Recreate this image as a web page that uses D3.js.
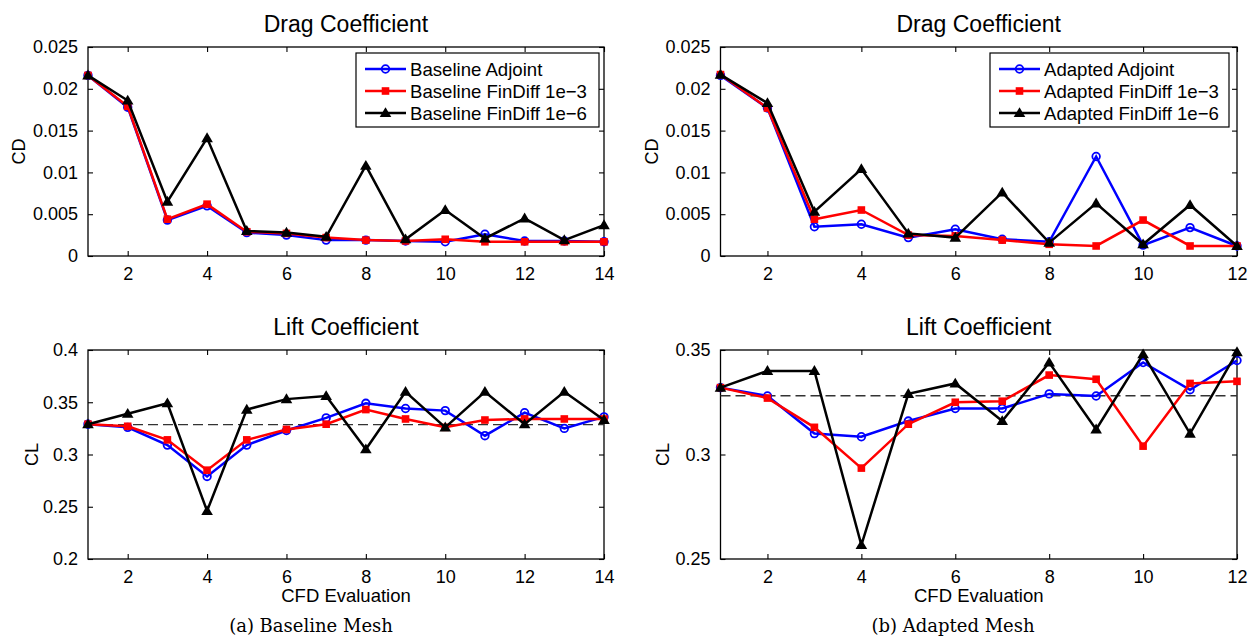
<!DOCTYPE html>
<html>
<head>
<meta charset="utf-8">
<script src="https://cdn.jsdelivr.net/npm/d3@7"></script>
<style>
  html, body { margin: 0; padding: 0; background: #fff; }
  svg { display: block; }
</style>
</head>
<body>
<div id="chart"></div>
<script>
// ── Data ────────────────────────────────────────────────────────────────────
const evalA = d3.range(1, 15);   // CFD evaluations, baseline mesh
const evalB = d3.range(1, 13);   // CFD evaluations, adapted mesh

const cdBaseAdjoint = [0.0216, 0.0178, 0.0043, 0.0060, 0.0028, 0.0025, 0.0019, 0.0019, 0.0018, 0.0017, 0.0026, 0.0018, 0.0018, 0.0017];
const cdBaseFd3     = [0.0216, 0.0179, 0.0044, 0.0062, 0.0029, 0.0027, 0.0022, 0.0019, 0.0018, 0.0020, 0.0017, 0.0017, 0.0017, 0.0017];
const cdBaseFd6     = [0.0216, 0.0186, 0.0065, 0.0141, 0.0030, 0.0028, 0.0023, 0.0108, 0.0020, 0.0055, 0.0021, 0.0045, 0.0019, 0.0037];

const clBaseAdjoint = [0.329, 0.326, 0.309, 0.279, 0.309, 0.323, 0.335, 0.349, 0.344, 0.342, 0.318, 0.340, 0.325, 0.336];
const clBaseFd3     = [0.329, 0.327, 0.314, 0.285, 0.314, 0.324, 0.329, 0.343, 0.334, 0.326, 0.333, 0.334, 0.334, 0.334];
const clBaseFd6     = [0.329, 0.339, 0.349, 0.246, 0.343, 0.353, 0.356, 0.305, 0.360, 0.326, 0.360, 0.329, 0.360, 0.333];

const cdAdaptAdjoint = [0.0216, 0.0177, 0.0035, 0.0038, 0.0022, 0.0032, 0.0020, 0.0017, 0.0119, 0.0013, 0.0034, 0.0012];
const cdAdaptFd3     = [0.0217, 0.0177, 0.0044, 0.0055, 0.0025, 0.0024, 0.0019, 0.0014, 0.0012, 0.0043, 0.0012, 0.0012];
const cdAdaptFd6     = [0.0217, 0.0183, 0.0053, 0.0104, 0.0027, 0.0022, 0.0076, 0.0016, 0.0063, 0.0014, 0.0061, 0.0012];

const clAdaptAdjoint = [0.332, 0.328, 0.310, 0.3085, 0.316, 0.322, 0.322, 0.329, 0.328, 0.344, 0.331, 0.345];
const clAdaptFd3     = [0.332, 0.327, 0.313, 0.2935, 0.3145, 0.325, 0.3255, 0.338, 0.336, 0.304, 0.334, 0.335];
const clAdaptFd6     = [0.332, 0.340, 0.340, 0.2567, 0.329, 0.334, 0.316, 0.344, 0.312, 0.348, 0.310, 0.349];

const clRefBase  = 0.3286;   // dashed reference line
const clRefAdapt = 0.3281;

const cdTicks   = [0, 0.005, 0.01, 0.015, 0.02, 0.025];
const clTicksA  = [0.2, 0.25, 0.3, 0.35, 0.4];
const clTicksB  = [0.25, 0.3, 0.35];
const xTicksA   = [2, 4, 6, 8, 10, 12, 14];
const xTicksB   = [2, 4, 6, 8, 10, 12];

const namesBase  = ['Baseline Adjoint', 'Baseline FinDiff 1e\u22123', 'Baseline FinDiff 1e\u22126'];
const namesAdapt = ['Adapted Adjoint', 'Adapted FinDiff 1e\u22123', 'Adapted FinDiff 1e\u22126'];

// ── Style ───────────────────────────────────────────────────────────────────
const W = 1252, H = 643;
const FONT  = 'Liberation Sans, Arial, Helvetica, sans-serif';
const SERIF = 'DejaVu Serif, Liberation Serif, serif';
const STYLES = [
  { color: '#0000ff', marker: 'circle'   },
  { color: '#ff0000', marker: 'square'   },
  { color: '#000000', marker: 'triangle' },
];

const svg = d3.select('#chart').append('svg')
  .attr('width', W).attr('height', H)
  .attr('viewBox', `0 0 ${W} ${H}`);
svg.append('rect').attr('width', W).attr('height', H).attr('fill', '#fff');

const fmt = v => v === 0 ? '0' : String(+v.toFixed(4));

function drawMarker(g, kind, color, x, y) {
  if (kind === 'circle') {
    g.append('circle').attr('cx', x).attr('cy', y).attr('r', 3.8)
      .attr('fill', 'none').attr('stroke', color).attr('stroke-width', 1.8);
  } else if (kind === 'square') {
    g.append('rect').attr('x', x - 3.8).attr('y', y - 3.8)
      .attr('width', 7.6).attr('height', 7.6).attr('fill', color);
  } else {
    const s = 5.8;
    g.append('path')
      .attr('d', `M${x},${y - s}L${x + s},${y + s * 0.7}L${x - s},${y + s * 0.7}Z`)
      .attr('fill', color);
  }
}

// ── One subplot ─────────────────────────────────────────────────────────────
function panel(opt) {
  const { box, xs, xDomain, xTicks, yDomain, yTicks, series, title, ylabel, ylabelX, refLine, xlabel, legend } = opt;
  const [x0, y0, x1, y1] = box;
  const x = d3.scaleLinear().domain(xDomain).range([x0, x1]);
  const y = d3.scaleLinear().domain(yDomain).range([y1, y0]);
  const g = svg.append('g');

  // axes: bottom/left with labels, top/right mirrored, ticks pointing inward
  const ax = [
    d3.axisBottom(x).tickValues(xTicks).tickFormat(d3.format('d')),
    d3.axisTop(x).tickValues(xTicks).tickFormat(''),
    d3.axisLeft(y).tickValues(yTicks).tickFormat(fmt),
    d3.axisRight(y).tickValues(yTicks).tickFormat(''),
  ];
  const pos = [`translate(0,${y1})`, `translate(0,${y0})`, `translate(${x0},0)`, `translate(${x1},0)`];
  ax.forEach((a, i) => {
    a.tickSizeInner(-5).tickSizeOuter(0).tickPadding(i === 0 ? 11 : 10);
    const sel = g.append('g').attr('transform', pos[i]).call(a);
    sel.select('.domain').remove();
    sel.selectAll('line').attr('stroke', '#000').attr('stroke-width', 1.1);
    sel.selectAll('text').attr('font-family', FONT).attr('font-size', 18).attr('fill', '#000');
  });
  g.append('rect').attr('x', x0).attr('y', y0).attr('width', x1 - x0).attr('height', y1 - y0)
    .attr('fill', 'none').attr('stroke', '#000').attr('stroke-width', 1.3);

  if (refLine != null) {
    g.append('line')
      .attr('x1', x0).attr('x2', x1).attr('y1', y(refLine)).attr('y2', y(refLine))
      .attr('stroke', '#333').attr('stroke-width', 1.3).attr('stroke-dasharray', '10,5');
  }

  const line = d3.line().x((d, i) => x(xs[i])).y(d => y(d));
  series.forEach((vals, k) => {
    const st = STYLES[k];
    g.append('path').datum(vals).attr('d', line)
      .attr('fill', 'none').attr('stroke', st.color).attr('stroke-width', 2.5)
      .attr('stroke-linejoin', 'miter');
    const mg = g.append('g');
    vals.forEach((v, i) => drawMarker(mg, st.marker, st.color, x(xs[i]), y(v)));
  });

  g.append('text').attr('x', (x0 + x1) / 2).attr('y', y0 - 15.5)
    .attr('text-anchor', 'middle').attr('font-family', FONT).attr('font-size', 23)
    .text(title);

  g.append('text')
    .attr('transform', `translate(${ylabelX},${(y0 + y1) / 2}) rotate(-90)`)
    .attr('text-anchor', 'middle').attr('font-family', FONT).attr('font-size', 18)
    .text(ylabel);

  if (xlabel) {
    g.append('text').attr('x', (x0 + x1) / 2).attr('y', y1 + 43)
      .attr('text-anchor', 'middle').attr('font-family', FONT).attr('font-size', 18.5)
      .text(xlabel);
  }

  if (legend) {
    const [lx0, ly0, lx1, ly1] = legend.box;
    const lg = g.append('g');
    lg.append('rect').attr('x', lx0).attr('y', ly0).attr('width', lx1 - lx0).attr('height', ly1 - ly0)
      .attr('fill', '#fff').attr('stroke', '#000').attr('stroke-width', 1.2);
    legend.names.forEach((name, k) => {
      const st = STYLES[k];
      const ry = ly0 + 16 + k * 22;
      lg.append('line').attr('x1', lx0 + 9).attr('x2', lx0 + 50).attr('y1', ry).attr('y2', ry)
        .attr('stroke', st.color).attr('stroke-width', 2.5);
      drawMarker(lg, st.marker, st.color, lx0 + 29.5, ry);
      lg.append('text').attr('x', lx0 + 54).attr('y', ry + 6.5)
        .attr('font-family', FONT).attr('font-size', 18.6).text(name);
    });
  }
}

// ── (a) Baseline Mesh ───────────────────────────────────────────────────────
panel({
  box: [88, 47, 604, 256], xs: evalA, xDomain: [1, 14], xTicks: xTicksA,
  yDomain: [0, 0.025], yTicks: cdTicks,
  series: [cdBaseAdjoint, cdBaseFd3, cdBaseFd6],
  title: 'Drag Coefficient', ylabel: 'CD', ylabelX: 25,
  legend: { box: [356, 53, 599, 127], names: namesBase },
});
panel({
  box: [88, 350, 604, 559], xs: evalA, xDomain: [1, 14], xTicks: xTicksA,
  yDomain: [0.2, 0.4], yTicks: clTicksA,
  series: [clBaseAdjoint, clBaseFd3, clBaseFd6],
  title: 'Lift Coefficient', ylabel: 'CL', ylabelX: 38, refLine: clRefBase,
  xlabel: 'CFD Evaluation',
});

// ── (b) Adapted Mesh ────────────────────────────────────────────────────────
panel({
  box: [720.5, 47, 1237, 256], xs: evalB, xDomain: [1, 12], xTicks: xTicksB,
  yDomain: [0, 0.025], yTicks: cdTicks,
  series: [cdAdaptAdjoint, cdAdaptFd3, cdAdaptFd6],
  title: 'Drag Coefficient', ylabel: 'CD', ylabelX: 658,
  legend: { box: [990, 53, 1229, 127], names: namesAdapt },
});
panel({
  box: [720.5, 350, 1237, 559], xs: evalB, xDomain: [1, 12], xTicks: xTicksB,
  yDomain: [0.25, 0.35], yTicks: clTicksB,
  series: [clAdaptAdjoint, clAdaptFd3, clAdaptFd6],
  title: 'Lift Coefficient', ylabel: 'CL', ylabelX: 669, refLine: clRefAdapt,
  xlabel: 'CFD Evaluation',
});

// ── Sub-captions ────────────────────────────────────────────────────────────
svg.append('text').attr('x', 311).attr('y', 632).attr('text-anchor', 'middle')
  .attr('font-family', SERIF).attr('font-size', 18).text('(a) Baseline Mesh');
svg.append('text').attr('x', 953).attr('y', 632).attr('text-anchor', 'middle')
  .attr('font-family', SERIF).attr('font-size', 18).text('(b) Adapted Mesh');
</script>
</body>
</html>
